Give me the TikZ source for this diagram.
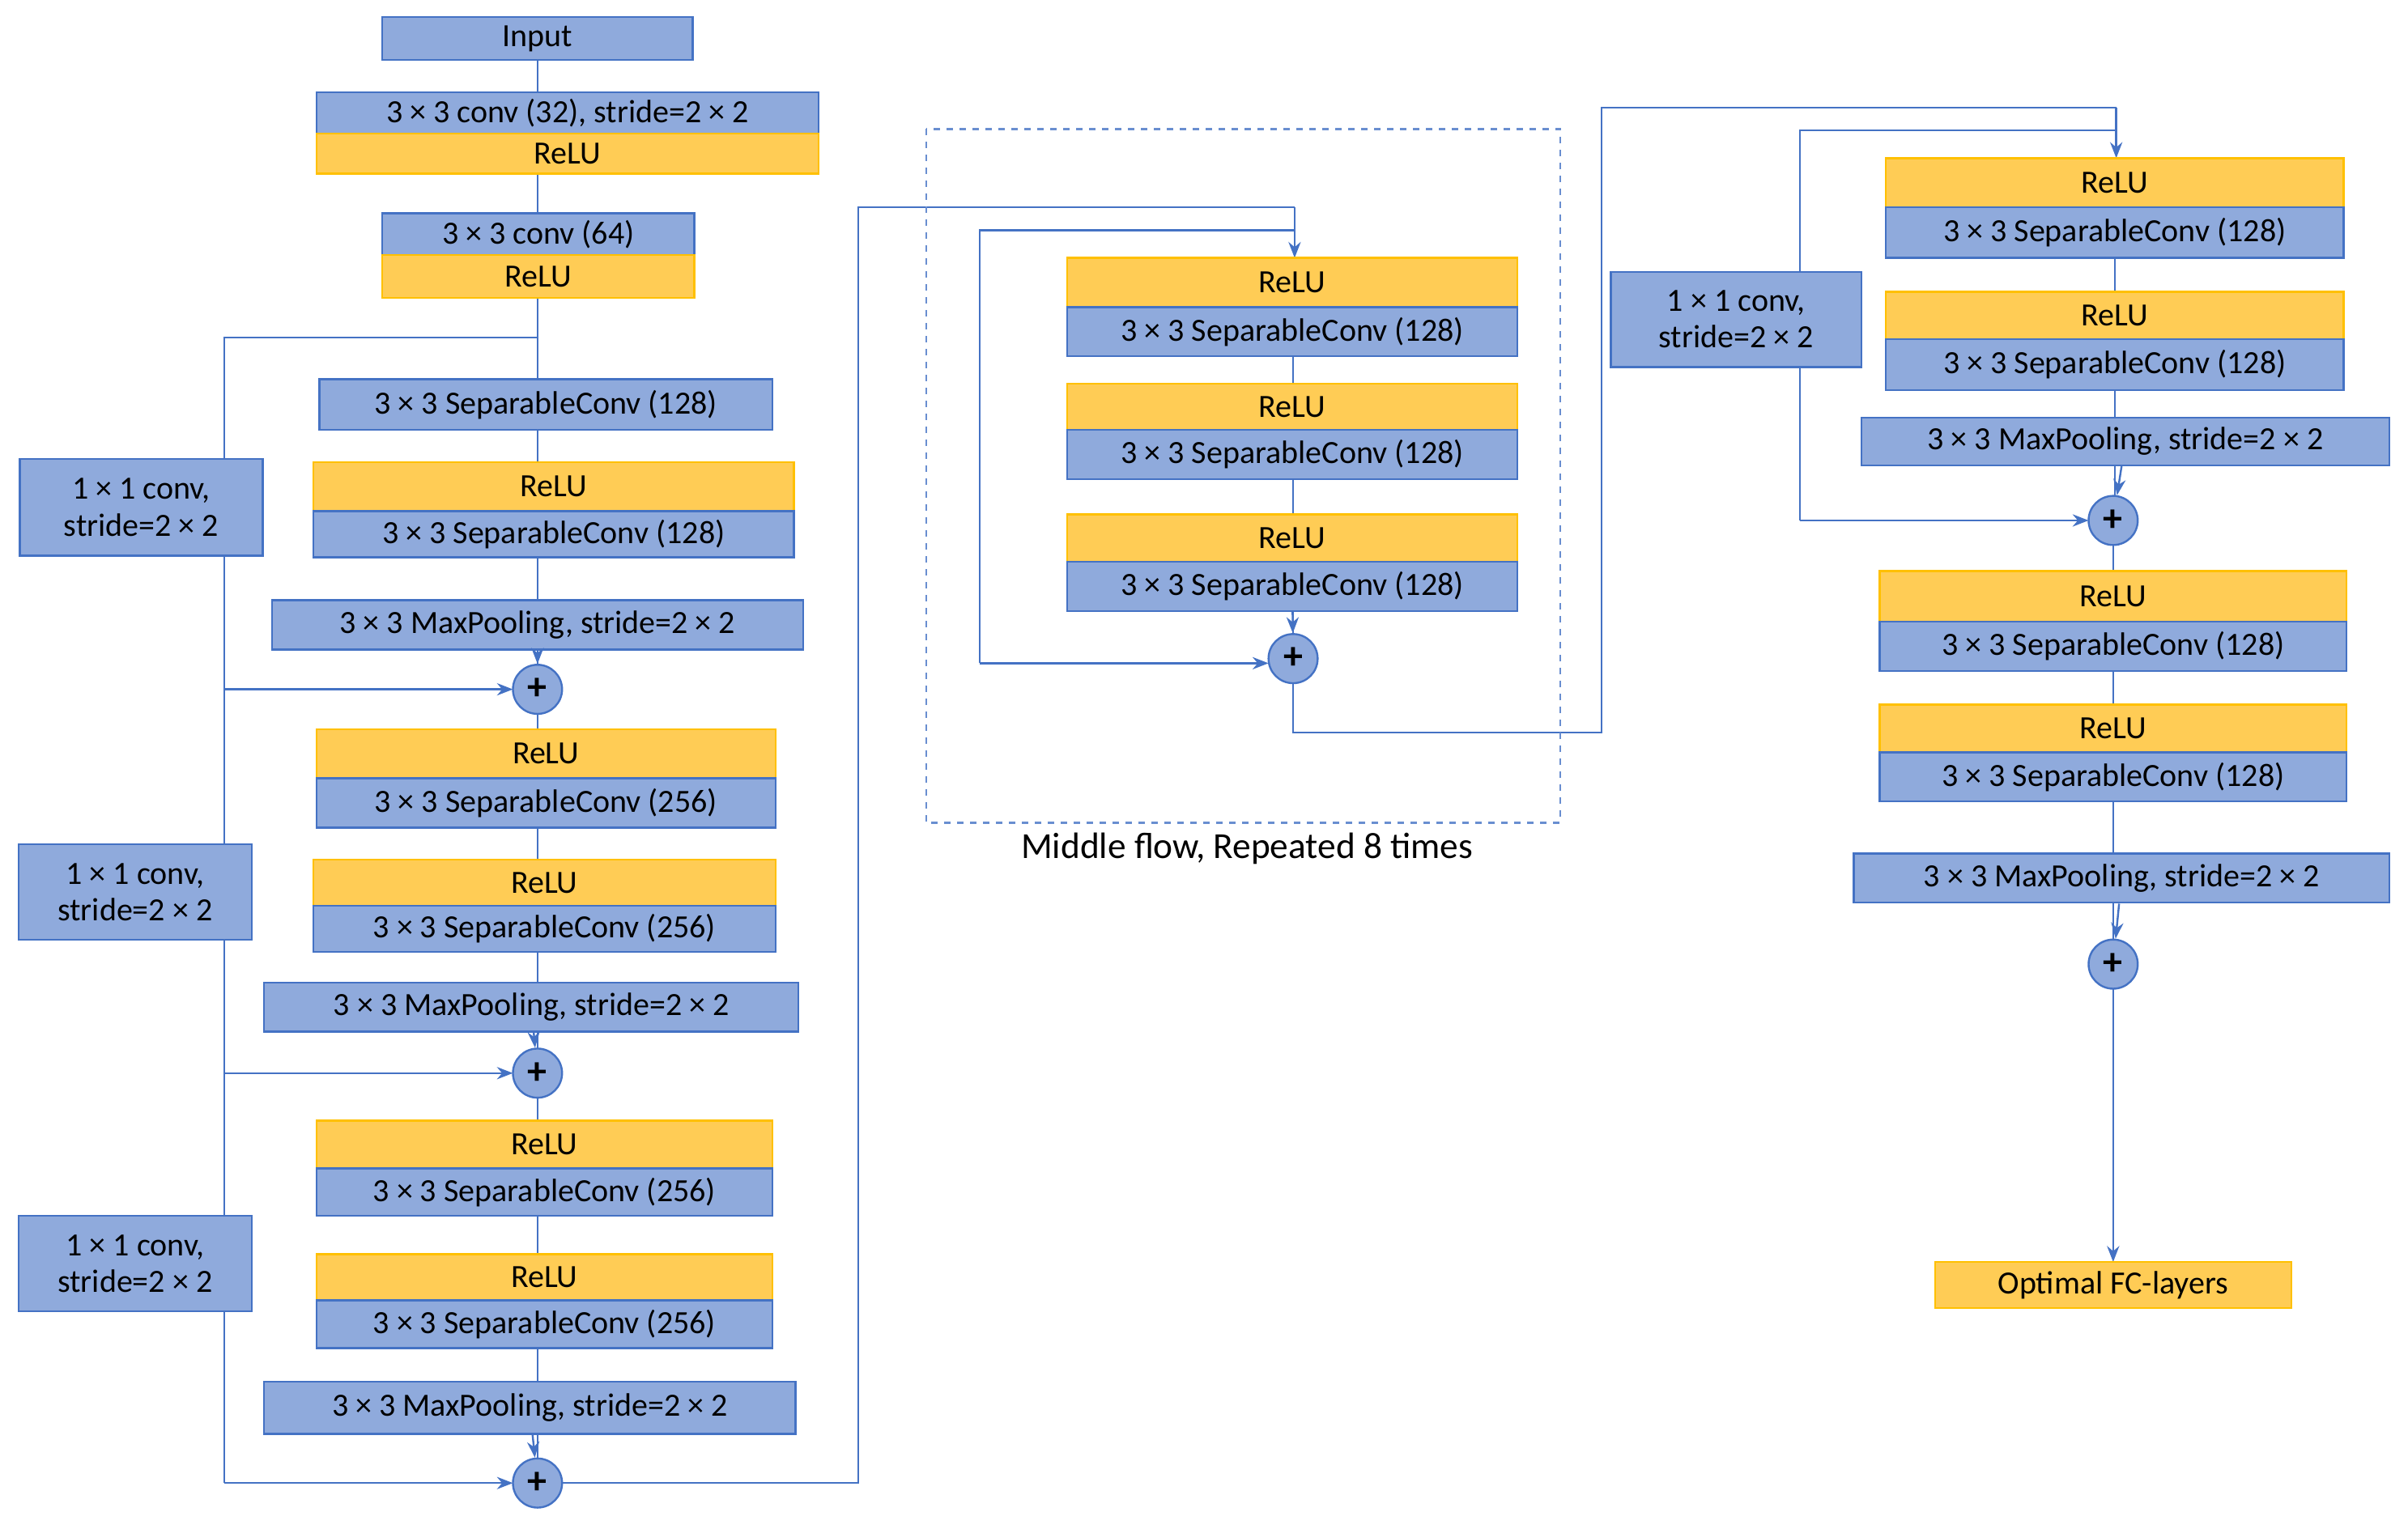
\documentclass[tikz,border=0pt]{standalone}
\usepackage{fontspec}
\setmainfont{Carlito}
\usetikzlibrary{fit,arrows.meta}
\definecolor{bfill}{HTML}{8FAADC}
\definecolor{bline}{HTML}{4472C4}
\definecolor{yfill}{HTML}{FFCC55}
\definecolor{yline}{HTML}{FFC000}
\tikzset{
  base/.style={inner sep=0pt, line width=0.9pt, font=\fontsize{15}{17}\selectfont},
  bb/.style={base, draw=bline, fill=bfill},
  yb/.style={base, draw=yline, fill=yfill},
  pl/.style={circle, draw=bline, fill=bfill, line width=0.9pt, minimum size=8mm, inner sep=0pt, font=\fontsize{18}{18}\selectfont\bfseries},
  ln/.style={draw=bline, line width=0.9pt},
  ar/.style={ln, -{Stealth[length=2.6mm,width=2mm]}},
}
\newcommand\bx[7]{\node[#6, fit={(#2,#3)(#4,#5)}, label={[base,align=center]center:#7}] (#1) {};}
\begin{document}
\begin{tikzpicture}[x=0.25mm,y=-0.25mm]
\useasboundingbox (0,0) rectangle (1568,995.5);
% lines drawn first (behind)
% Left column
\draw[ln] (350,25) -- (350,449);
\draw[ln] (350,449) -- (350,966);
\draw[ln] (350,220) -- (146,220) -- (146,449);
\draw[ar] (146,449) -- (334,449);
\draw[ln] (146,449) -- (146,699);
\draw[ar] (146,699) -- (334,699);
\draw[ln] (146,699) -- (146,966);
\draw[ar] (146,966) -- (334,966);
\draw[ln] (366,966) -- (559,966) -- (559,135) -- (843,135);
\draw[ar] (843,135) -- (843,168);
% Middle
\draw[ln] (843,150) -- (638,150) -- (638,432);
\draw[ar] (638,432) -- (826,432);
\draw[ln] (842,200) -- (842,413);
\draw[ln] (842,445) -- (842,477) -- (1043,477) -- (1043,70) -- (1378,70);
\draw[ar] (1378,70) -- (1378,103);
\draw[ln] (1378,85) -- (1172,85) -- (1172,339);
\draw[ar] (1172,339) -- (1360,339);
\draw[ln] (1377,135) -- (1377,323);
\draw[ln] (1376,355) -- (1376,612);
\draw[ar] (1376,644) -- (1376,822);
\draw[dashed, draw=bline!80, line width=0.9pt] (603,84) rectangle (1016,536);
\node[base, font=\fontsize{17}{19}\selectfont] (mlab) at (812,553) {Middle flow, Repeated 8 times};
% Left boxes
\bx{in}{249}{11}{451}{39}{bb}{Input}
\bx{c1}{206}{60}{533}{87}{bb}{3 × 3 conv (32), stride=2 × 2}
\bx{r1}{206}{87}{533}{113}{yb}{ReLU}
\bx{c2}{249}{139}{452}{166}{bb}{3 × 3 conv (64)}
\bx{r2}{249}{166}{452}{194}{yb}{ReLU}
\bx{s1}{208}{247}{503}{280}{bb}{3 × 3 SeparableConv (128)}
\bx{r3}{204}{301}{517}{333}{yb}{ReLU}
\bx{s2}{204}{333}{517}{363}{bb}{3 × 3 SeparableConv (128)}
\bx{m1}{177}{391}{523}{423}{bb}{3 × 3 MaxPooling, stride=2 × 2}
\bx{k1}{13}{299}{171}{362}{bb}{1 × 1 conv,\\stride=2 × 2}
\bx{r4}{206}{475}{505}{507}{yb}{ReLU}
\bx{s3}{206}{507}{505}{539}{bb}{3 × 3 SeparableConv (256)}
\bx{r5}{204}{560}{505}{590}{yb}{ReLU}
\bx{s4}{204}{590}{505}{620}{bb}{3 × 3 SeparableConv (256)}
\bx{m2}{172}{640}{520}{672}{bb}{3 × 3 MaxPooling, stride=2 × 2}
\bx{k2}{12}{550}{164}{612}{bb}{1 × 1 conv,\\stride=2 × 2}
\bx{r6}{206}{730}{503}{761}{yb}{ReLU}
\bx{s5}{206}{761}{503}{792}{bb}{3 × 3 SeparableConv (256)}
\bx{r7}{206}{817}{503}{847}{yb}{ReLU}
\bx{s6}{206}{847}{503}{878}{bb}{3 × 3 SeparableConv (256)}
\bx{m3}{172}{900}{518}{934}{bb}{3 × 3 MaxPooling, stride=2 × 2}
\bx{k3}{12}{792}{164}{854}{bb}{1 × 1 conv,\\stride=2 × 2}
\node[pl] (p1) at (350,449) {+};
\node[pl] (p2) at (350,699) {+};
\node[pl] (p3) at (350,966) {+};
\draw[ar] (m1) -- (p1);
\draw[ar] (m2) -- (p2);
\draw[ar] (m3) -- (p3);
% Middle boxes
\bx{mr1}{695}{168}{988}{200}{yb}{ReLU}
\bx{ms1}{695}{200}{988}{232}{bb}{3 × 3 SeparableConv (128)}
\bx{mr2}{695}{250}{988}{280}{yb}{ReLU}
\bx{ms2}{695}{280}{988}{312}{bb}{3 × 3 SeparableConv (128)}
\bx{mr3}{695}{335}{988}{366}{yb}{ReLU}
\bx{ms3}{695}{366}{988}{398}{bb}{3 × 3 SeparableConv (128)}
\node[pl] (mp) at (842,429) {+};
\draw[ar] (ms3) -- (mp);
% Right boxes
\bx{k4}{1049}{177}{1212}{239}{bb}{1 × 1 conv,\\stride=2 × 2}
\bx{er1}{1228}{103}{1526}{135}{yb}{ReLU}
\bx{es1}{1228}{135}{1526}{168}{bb}{3 × 3 SeparableConv (128)}
\bx{er2}{1228}{190}{1526}{221}{yb}{ReLU}
\bx{es2}{1228}{221}{1526}{254}{bb}{3 × 3 SeparableConv (128)}
\bx{em1}{1212}{272}{1556}{303}{bb}{3 × 3 MaxPooling, stride=2 × 2}
\node[pl] (ep1) at (1376,339) {+};
\draw[ar] (em1) -- (ep1);
\bx{er3}{1224}{372}{1528}{405}{yb}{ReLU}
\bx{es3}{1224}{405}{1528}{437}{bb}{3 × 3 SeparableConv (128)}
\bx{er4}{1224}{459}{1528}{490}{yb}{ReLU}
\bx{es4}{1224}{490}{1528}{522}{bb}{3 × 3 SeparableConv (128)}
\bx{em2}{1207}{556}{1556}{588}{bb}{3 × 3 MaxPooling, stride=2 × 2}
\node[pl] (ep2) at (1376,628) {+};
\draw[ar] (em2) -- (ep2);
\bx{fc}{1260}{822}{1492}{852}{yb}{Optimal FC-layers}
\end{tikzpicture}
\end{document}
